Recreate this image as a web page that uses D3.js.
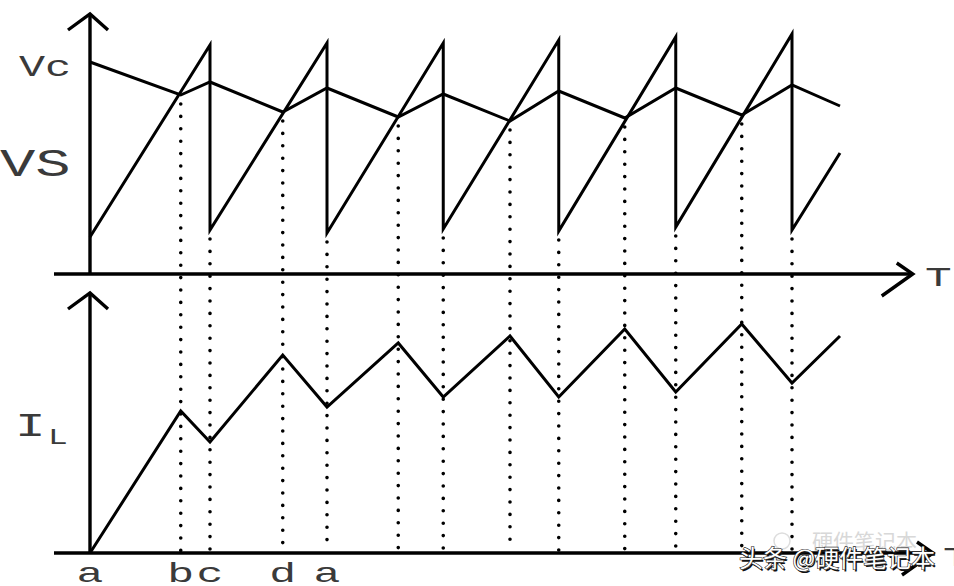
<!DOCTYPE html>
<html>
<head>
<meta charset="utf-8">
<script src="https://cdn.jsdelivr.net/npm/d3@7"></script>
<style>
body{margin:0;background:#fff;}
</style>
</head>
<body>
<div id="chart"></div>
<script>
// time in arbitrary units 0..100, values in arbitrary units 0..100

// capacitor voltage Vc (falls, then rises while switch on)
var vcT = [0, 12.1, 16, 25.7, 31.6, 41.1, 47.1, 56, 62.5, 71.3, 78.1, 86.9, 93.6, 100];
var vcV = [84.8, 71.6, 76.8, 64.8, 74.4, 62.8, 72, 61.2, 73.2, 62.4, 74.4, 63.6, 75.6, 67.2];

// sawtooth Vs
var vsT = [0, 16, 16, 31.6, 31.6, 47.1, 47.1, 62.5, 62.5, 78.1, 78.1, 93.6, 93.6, 100];
var vsV = [14.8, 91.6, 17.6, 92.4, 16.4, 92.4, 18, 93.6, 17.2, 94.8, 18.8, 96, 17.6, 48.4];

// inductor current IL
var ilT = [0, 12.1, 16, 25.7, 31.6, 41.1, 47.1, 56, 62.5, 71.3, 78.1, 86.9, 93.6, 100];
var ilV = [0, 56.8, 44.4, 79.2, 58.4, 84, 62.4, 86.8, 62.4, 89.6, 64.4, 91.6, 68, 86.8];

// dotted guide lines: where Vs crosses Vc, and where Vs drops
var crossT = [12.1, 25.7, 41.1, 56, 71.3, 86.9];
var crossV = [71.6, 64.8, 62.8, 61.2, 62.4, 63.6];
var dropT = [16, 31.6, 47.1, 62.5, 78.1, 93.6];
var dropV = [17.6, 16.4, 18, 17.2, 18.8, 17.6];

// labels under the time axis
var tickT = [0, 12.1, 16, 25.7, 31.6];
var tickLab = ["a", "b", "c", "d", "a"];

var W = 954, H = 586;
var mono = "'Liberation Mono', 'DejaVu Sans Mono', monospace";

var svg = d3.select("#chart").append("svg")
  .attr("width", W)
  .attr("height", H)
  .style("display", "block");

var x = d3.scaleLinear().domain([0, 100]).range([90, 840]);
var yV = d3.scaleLinear().domain([0, 100]).range([274, 24]);
var yI = d3.scaleLinear().domain([0, 100]).range([553, 303]);

// dotted lines first so the curves sit on top
var guides = crossT.map(function(t, i) { return {t: t, v: crossV[i]}; })
  .concat(dropT.map(function(t, i) { return {t: t, v: dropV[i]}; }));

svg.selectAll(".guide")
  .data(guides)
  .enter().append("line")
  .attr("class", "guide")
  .attr("x1", function(d) { return x(d.t); })
  .attr("x2", function(d) { return x(d.t); })
  .attr("y1", function(d) { return yV(d.v) + 9; })
  .attr("y2", yI(0) - 2)
  .attr("stroke", "#000")
  .attr("stroke-width", 3.6)
  .attr("stroke-linecap", "round")
  .attr("stroke-dasharray", "0,12.4");

// axes
function drawAxes(yScale, endT) {
  var g = svg.append("g")
    .attr("fill", "none")
    .attr("stroke", "#000")
    .attr("stroke-width", 3.4);
  var ox = x(0), oy = yScale(0), top = yScale(104), right = x(endT);
  g.append("line").attr("x1", ox).attr("x2", ox).attr("y1", oy + 1).attr("y2", top);
  g.append("path").attr("d", "M" + (ox - 22) + "," + (top + 16) + "L" + ox + "," + top + "L" + (ox + 18) + "," + (top + 16));
  g.append("line").attr("x1", x(-4.8)).attr("x2", right).attr("y1", oy).attr("y2", oy);
  g.append("path").attr("d", "M" + (right - 16) + "," + (oy - 11) + "L" + right + "," + oy + "L" + (right - 31) + "," + (oy + 22));
}
drawAxes(yV, 109.7);
drawAxes(yI, 112.4);

// curves
function curve(ts, vs, yScale) {
  var pts = ts.map(function(t, i) { return [t, vs[i]]; });
  var line = d3.line()
    .x(function(d) { return x(d[0]); })
    .y(function(d) { return yScale(d[1]); });
  svg.append("path")
    .datum(pts)
    .attr("d", line)
    .attr("fill", "none")
    .attr("stroke", "#000")
    .attr("stroke-width", 3);
}
curve(vcT, vcV, yV);
curve(vsT, vsV, yV);
curve(ilT, ilV, yI);

// stretched courier-ish labels
function label(txt, px, py, size, sx) {
  svg.append("text")
    .attr("transform", "translate(" + px + "," + py + ") scale(" + sx + ",1)")
    .attr("font-family", mono)
    .attr("font-size", size)
    .attr("fill", "#3a3a3a")
    .text(txt);
}
label("Vc", 19, 76, 30, 1.45);
label("VS", 0, 176, 38, 1.55);
label("I", 15, 436, 34, 1.5);
label("L", 48, 444, 22, 1.5);
label("T", 925, 286, 27, 1.65);
label("T", 943, 566, 27, 1.65);

svg.selectAll(".tick")
  .data(tickT)
  .enter().append("text")
  .attr("class", "tick")
  .attr("transform", function(d) { return "translate(" + x(d) + ",582) scale(1.6,1)"; })
  .attr("text-anchor", "middle")
  .attr("font-family", mono)
  .attr("font-size", 28)
  .attr("fill", "#3a3a3a")
  .text(function(d, i) { return tickLab[i]; });

// watermark
var cjk = "'Noto Sans CJK SC', sans-serif";
svg.append("text")
  .attr("x", 812).attr("y", 549)
  .attr("font-family", cjk)
  .attr("font-size", 21)
  .attr("fill", "#d8d8d8")
  .text("硬件笔记本");
svg.append("circle")
  .attr("cx", 782).attr("cy", 541).attr("r", 8)
  .attr("fill", "none").attr("stroke", "#ddd").attr("stroke-width", 1.5);
svg.append("text")
  .attr("x", 740.5).attr("y", 568.5)
  .attr("font-family", cjk)
  .attr("font-size", 24)
  .attr("fill", "#111")
  .text("头条 @硬件笔记本");
svg.append("text")
  .attr("x", 739).attr("y", 567)
  .attr("font-family", cjk)
  .attr("font-size", 24)
  .attr("fill", "#fff")
  .attr("stroke", "#222")
  .attr("stroke-width", 1.2)
  .attr("paint-order", "stroke")
  .text("头条 @硬件笔记本");
</script>
</body>
</html>
